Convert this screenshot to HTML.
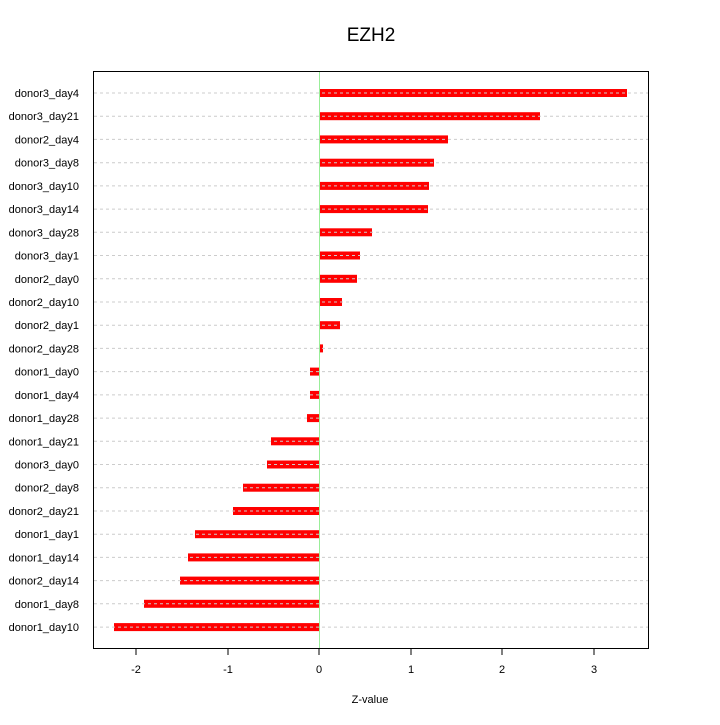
<!DOCTYPE html><html><head><style>body{margin:0;background:#fff}</style></head><body>
<svg width="720" height="720" xmlns="http://www.w3.org/2000/svg" font-family="Liberation Sans, sans-serif">
<rect width="720" height="720" fill="#fff"/>
<text x="371" y="41" font-size="19" text-anchor="middle">EZH2</text>
<g fill="#f00">
<rect x="319" y="89" width="308" height="8"/>
<rect x="319" y="112.2" width="221" height="8"/>
<rect x="319" y="135.4" width="129" height="8"/>
<rect x="319" y="158.7" width="115" height="8"/>
<rect x="319" y="181.9" width="110" height="8"/>
<rect x="319" y="205.1" width="109" height="8"/>
<rect x="319" y="228.3" width="53" height="8"/>
<rect x="319" y="251.5" width="41" height="8"/>
<rect x="319" y="274.8" width="38" height="8"/>
<rect x="319" y="298" width="23" height="8"/>
<rect x="319" y="321.2" width="21" height="8"/>
<rect x="319" y="344.4" width="4" height="8"/>
<rect x="310" y="367.6" width="9" height="8"/>
<rect x="310" y="390.9" width="9" height="8"/>
<rect x="307" y="414.1" width="12" height="8"/>
<rect x="271" y="437.3" width="48" height="8"/>
<rect x="267" y="460.5" width="52" height="8"/>
<rect x="243" y="483.7" width="76" height="8"/>
<rect x="233" y="507" width="86" height="8"/>
<rect x="195" y="530.2" width="124" height="8"/>
<rect x="188" y="553.4" width="131" height="8"/>
<rect x="180" y="576.6" width="139" height="8"/>
<rect x="144" y="599.8" width="175" height="8"/>
<rect x="114" y="623.1" width="205" height="8"/>
</g>
<g stroke="#ccc" stroke-dasharray="3,3">
<line x1="94" x2="648" y1="93" y2="93"/>
<line x1="94" x2="648" y1="116.2" y2="116.2"/>
<line x1="94" x2="648" y1="139.4" y2="139.4"/>
<line x1="94" x2="648" y1="162.7" y2="162.7"/>
<line x1="94" x2="648" y1="185.9" y2="185.9"/>
<line x1="94" x2="648" y1="209.1" y2="209.1"/>
<line x1="94" x2="648" y1="232.3" y2="232.3"/>
<line x1="94" x2="648" y1="255.5" y2="255.5"/>
<line x1="94" x2="648" y1="278.8" y2="278.8"/>
<line x1="94" x2="648" y1="302" y2="302"/>
<line x1="94" x2="648" y1="325.2" y2="325.2"/>
<line x1="94" x2="648" y1="348.4" y2="348.4"/>
<line x1="94" x2="648" y1="371.6" y2="371.6"/>
<line x1="94" x2="648" y1="394.9" y2="394.9"/>
<line x1="94" x2="648" y1="418.1" y2="418.1"/>
<line x1="94" x2="648" y1="441.3" y2="441.3"/>
<line x1="94" x2="648" y1="464.5" y2="464.5"/>
<line x1="94" x2="648" y1="487.7" y2="487.7"/>
<line x1="94" x2="648" y1="511" y2="511"/>
<line x1="94" x2="648" y1="534.2" y2="534.2"/>
<line x1="94" x2="648" y1="557.4" y2="557.4"/>
<line x1="94" x2="648" y1="580.6" y2="580.6"/>
<line x1="94" x2="648" y1="603.8" y2="603.8"/>
<line x1="94" x2="648" y1="627.1" y2="627.1"/>
</g>
<line x1="319.5" x2="319.5" y1="72" y2="648" stroke="#9e9"/>
<g font-size="11" text-anchor="end">
<text x="79" y="97">donor3_day4</text>
<text x="79" y="120.2">donor3_day21</text>
<text x="79" y="143.4">donor2_day4</text>
<text x="79" y="166.7">donor3_day8</text>
<text x="79" y="189.9">donor3_day10</text>
<text x="79" y="213.1">donor3_day14</text>
<text x="79" y="236.3">donor3_day28</text>
<text x="79" y="259.5">donor3_day1</text>
<text x="79" y="282.8">donor2_day0</text>
<text x="79" y="306">donor2_day10</text>
<text x="79" y="329.2">donor2_day1</text>
<text x="79" y="352.4">donor2_day28</text>
<text x="79" y="375.6">donor1_day0</text>
<text x="79" y="398.9">donor1_day4</text>
<text x="79" y="422.1">donor1_day28</text>
<text x="79" y="445.3">donor1_day21</text>
<text x="79" y="468.5">donor3_day0</text>
<text x="79" y="491.7">donor2_day8</text>
<text x="79" y="515">donor2_day21</text>
<text x="79" y="538.2">donor1_day1</text>
<text x="79" y="561.4">donor1_day14</text>
<text x="79" y="584.6">donor2_day14</text>
<text x="79" y="607.8">donor1_day8</text>
<text x="79" y="631.1">donor1_day10</text>
</g>
<rect x="93.5" y="71.5" width="555" height="577" fill="none" stroke="#000" stroke-width="1"/>
<g font-size="11" text-anchor="middle">
<line x1="136" y1="648" x2="136" y2="655" stroke="#000"/><text x="136" y="673">-2</text>
<line x1="228" y1="648" x2="228" y2="655" stroke="#000"/><text x="228" y="673">-1</text>
<line x1="319" y1="648" x2="319" y2="655" stroke="#000"/><text x="319" y="673">0</text>
<line x1="411" y1="648" x2="411" y2="655" stroke="#000"/><text x="411" y="673">1</text>
<line x1="502" y1="648" x2="502" y2="655" stroke="#000"/><text x="502" y="673">2</text>
<line x1="594" y1="648" x2="594" y2="655" stroke="#000"/><text x="594" y="673">3</text>
<text x="370" y="703">Z-value</text>
</g>
</svg></body></html>
